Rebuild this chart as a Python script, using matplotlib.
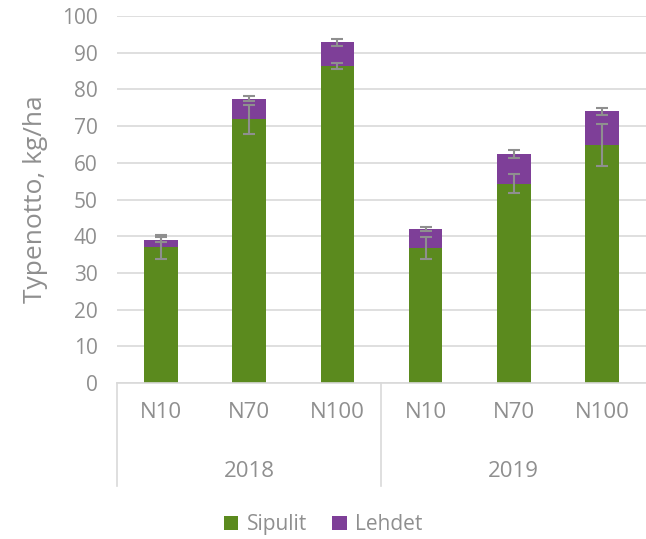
import matplotlib.pyplot as plt
import numpy as np

plt.rcParams['font.family'] = ['Open Sans', 'DejaVu Sans']

# data
years = ["2018", "2019"]
treatments = ["N10", "N70", "N100", "N10", "N70", "N100"]
sipulit = [37.0, 71.8, 86.3, 36.7, 54.3, 64.8]
lehdet = [2.0, 5.7, 6.5, 5.3, 8.1, 9.2]
sipulit_err = [3.2, 3.9, 0.8, 3.0, 2.6, 5.8]
lehdet_err = [0.7, 0.6, 0.9, 0.6, 1.2, 1.0]

green = "#5B8A1E"
purple = "#7E3F98"
txt = "#8F8F8F"
grid = "#D9D9D9"

fig = plt.figure(figsize=(6.46, 5.39), dpi=100)
ax = fig.add_axes([117 / 646, (539 - 383) / 539, (646 - 117) / 646, (383 - 16) / 539])

x = np.arange(len(treatments))
total = np.array(sipulit) + np.array(lehdet)
ax.bar(x, sipulit, width=0.38, color=green, label="Sipulit", zorder=2)
ax.bar(x, lehdet, width=0.38, bottom=sipulit, color=purple, label="Lehdet", zorder=2)
ax.errorbar(x, sipulit, yerr=sipulit_err, fmt="none", ecolor=txt, elinewidth=1.5,
            capsize=4, capthick=1.5, zorder=3)
ax.errorbar(x, total, yerr=lehdet_err, fmt="none", ecolor=txt, elinewidth=1.5,
            capsize=4, capthick=1.5, zorder=3)

ax.set_xlim(-0.5, 5.5)
ax.set_ylim(0, 100)
ax.set_yticks(np.arange(0, 101, 10))
ax.yaxis.grid(True, color=grid, linewidth=1.2, zorder=0)
ax.set_axisbelow(True)
for s in ["top", "right", "left"]:
    ax.spines[s].set_visible(False)
ax.spines["bottom"].set_color(grid)
ax.spines["bottom"].set_linewidth(1.2)
ax.tick_params(axis="y", length=0, pad=14, labelsize=15, labelcolor=txt)
ax.tick_params(axis="x", length=0, pad=14, labelsize=16, labelcolor=txt)
ax.set_xticks(x)
ax.set_xticklabels(treatments)
ax.set_ylabel("Typenotto, kg/ha", fontsize=19, color=txt, labelpad=10)

# year group labels and separators
trans = ax.get_xaxis_transform()
for i, yr in enumerate(years):
    ax.text(i * 3 + 1, -0.24, yr, transform=trans, ha="center", va="center",
            fontsize=16, color=txt)
for sx in [-0.5, 2.5]:
    ax.plot([sx, sx], [0, -0.28], transform=trans, color=grid, linewidth=1.2,
            clip_on=False)

fig.legend(loc="lower center", bbox_to_anchor=(0.5, -0.028), ncol=2, frameon=False,
           fontsize=15, labelcolor=txt, handlelength=0.7, handleheight=0.7,
           columnspacing=1.2, handletextpad=0.4)

fig.savefig("out.png", dpi=100)
